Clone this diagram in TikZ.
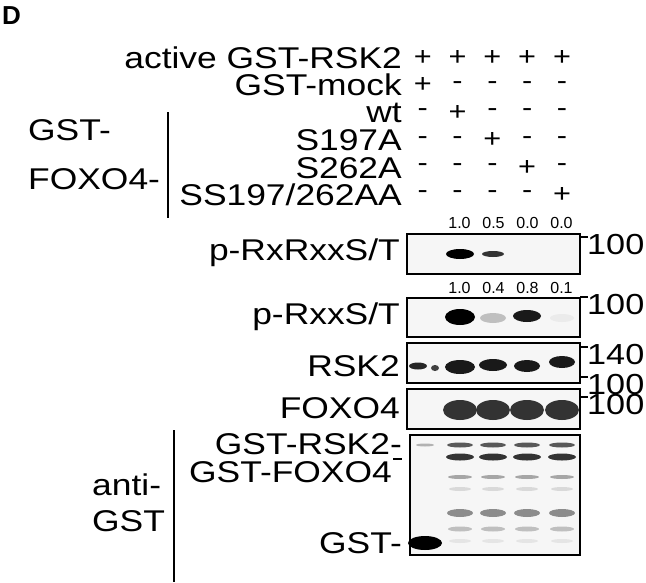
\documentclass[tikz,border=0pt]{standalone}
\usepackage{fontspec}
\setmainfont{Liberation Sans}
\newcommand\wide[1]{\scalebox{1.18}[1]{#1}}
\begin{document}
\begin{tikzpicture}[x=1pt,y=-1pt,
    lbl/.style={anchor=east,inner sep=0pt,font=\fontsize{30}{30}\selectfont},
    sgn/.style={inner sep=0pt,font=\fontsize{26}{26}\selectfont},
    num/.style={inner sep=0pt,font=\fontsize{16}{16}\selectfont},
    mrk/.style={anchor=west,inner sep=0pt,font=\fontsize{29}{29}\selectfont},
    blot/.style={draw,line width=1.4pt,fill=gray!7},
    band/.style={fill=black,draw=none}
    ]
    \useasboundingbox (0,0) rectangle (646,582);
    \node[anchor=west,inner sep=0pt,font=\bfseries\fontsize{26}{26}\selectfont] (title) at (2,16) {D};

    % header rows
    \node (r1) [lbl] at (402,58) {\wide{active GST-RSK2}};
    \node (r2) [lbl] at (402,85) {\wide{GST-mock}};
    \node (r3) [lbl] at (402,113) {\wide{wt}};
    \node (r4) [lbl] at (402,140) {\wide{S197A}};
    \node (r5) [lbl] at (402,168) {\wide{S262A}};
    \node (r6) [lbl] at (402,195) {\wide{SS197/262AA}};
    \node (gst) [lbl,anchor=west] at (28,130) {\wide{GST-}};
    \node (foxo) [lbl,anchor=west] at (28,179) {\wide{FOXO4-}};
    \draw[line width=1.4pt] (168,112) -- (168,218);

    \foreach \r/\s in {1/{+,+,+,+,+},2/{+,-,-,-,-},3/{-,+,-,-,-},4/{-,-,+,-,-},5/{-,-,-,+,-},6/{-,-,-,-,+}}
      \foreach \c [count=\i] in \s
        \node (s\r c\i) [sgn] at ({388+34.8*\i},{30.6+27.4*\r}) {\wide{\c}};

    % quantification
    \foreach \v [count=\i] in {1.0,0.5,0.0,0.0}
      \node (qa\i) [num] at ({425.5+34*\i},223) {\v};
    \foreach \v [count=\i] in {1.0,0.4,0.8,0.1}
      \node (qb\i) [num] at ({425.5+34*\i},288) {\v};

    % blots
    \draw[blot] (407,234) rectangle (580,274);
    \draw[blot] (407,298) rectangle (580,337);
    \draw[blot] (407,343) rectangle (580,383);
    \draw[blot] (407,389) rectangle (580,429);
    \draw[blot] (410,435) rectangle (580,555);

    \node (b1) [lbl] at (400,253) {\wide{p-RxRxxS/T}};
    \node (b2) [lbl] at (400,317) {\wide{p-RxxS/T}};
    \node (b3) [lbl] at (400,366) {\wide{RSK2}};
    \node (b4) [lbl] at (400,408) {\wide{FOXO4}};
    \node (b5a) [lbl] at (402,444) {\wide{GST-RSK2-}};
    \node (b5b) [lbl] at (392,472) {\wide{GST-FOXO4}};
    \node (b5c) [lbl] at (402,543) {\wide{GST-}};
    \node (anti) [lbl,anchor=west] at (92,485) {\wide{anti-}};
    \node (antg) [lbl,anchor=west] at (92,521) {\wide{GST}};
    \draw[line width=1.4pt] (393,459) -- (402,459);
    \draw[line width=1.4pt] (174,430) -- (174,582);

    % markers
    \foreach \y/\t in {237/100,297/100,347/140,377/100,397/100}{
      \draw[line width=1.4pt] (580,\y) -- (588,\y);
      \node[mrk] at (587,{\y+8}) {\wide{\t}};
    }

    % bands
    \fill[band] (460,254) ellipse (14 and 5);
    \fill[band,black!80] (493,254) ellipse (11 and 3);
    \fill[band] (460,317) ellipse (15 and 8);
    \fill[band,black!25] (493,318) ellipse (13 and 5);
    \fill[band,black!90] (527,316) ellipse (14 and 6);
    \fill[band,black!8] (562,318) ellipse (12 and 4);
    \fill[band,black!85] (418,366) ellipse (9 and 3.5);
    \fill[band,black!75] (435,368) ellipse (4 and 3);
    \fill[band,black!90] (460,367) ellipse (15 and 7);
    \fill[band,black!90] (493,365) ellipse (14 and 6);
    \fill[band,black!90] (527,366) ellipse (13 and 6);
    \fill[band,black!90] (562,362) ellipse (13 and 6);
    \foreach \x in {460,493,527,562}
      \fill[band,black!80] (\x,410) ellipse (17 and 10);
    \fill[band] (425,543) ellipse (17 and 7);
    \fill[band,black!30] (425,445) ellipse (9 and 1.5);
    \foreach \x in {460,493,527,562}{
      \fill[band,black!65] (\x,445) ellipse (13 and 2.5);
      \fill[band,black!80] (\x,457) ellipse (14 and 3.5);
      \fill[band,black!35] (\x,477) ellipse (12 and 2);
      \fill[band,black!15] (\x,489) ellipse (11 and 2);
      \fill[band,black!45] (\x,513) ellipse (13 and 4);
      \fill[band,black!25] (\x,529) ellipse (12 and 2.5);
      \fill[band,black!10] (\x,541) ellipse (11 and 2);
    }
  \end{tikzpicture}
\end{document}
